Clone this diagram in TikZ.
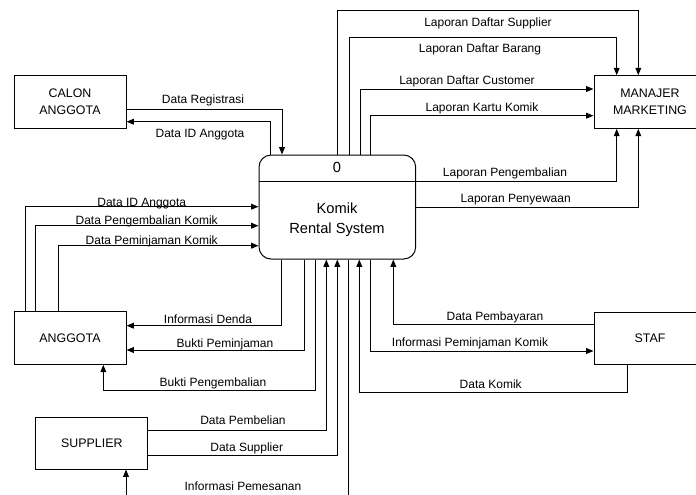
\documentclass[tikz,border=0pt]{standalone}
\usepackage{fontspec}
\setmainfont{Liberation Sans}
\usetikzlibrary{arrows.meta}
\begin{document}
\begin{tikzpicture}[x=0.75pt,y=-0.75pt,
  ent/.style={draw, line width=0.75pt, minimum width=84pt, minimum height=39.5pt, inner sep=0pt, align=center, font=\fontsize{9.3}{13}\selectfont},
  lbl/.style={inner sep=0pt, text height=6.45pt, text depth=0pt, font=\fontsize{9}{11}\selectfont},
  flow/.style={line width=0.75pt, -{Triangle[length=5.5pt,width=4.3pt]}},
  plain/.style={line width=0.75pt}]
\clip (0,0) rectangle (696,494);
% entities
\node[ent] (calon) at (70,102) {CALON\\ANGGOTA};
\node[ent] (anggota) at (70,338) {ANGGOTA};
\node[ent, minimum width=83.8pt, minimum height=38.8pt] (supplier) at (91.85,443.15) {SUPPLIER};
\node[ent] (manajer) at (650,102) {MANAJER\\MARKETING};
\node[ent, minimum height=38.8pt] (staf) at (650,338.15) {STAF};
% process
\node[draw, line width=0.75pt, rounded corners=9pt, minimum width=117.5pt, minimum height=78pt, inner sep=0pt] (main) at (337.35,207) {};
\draw[plain] (main.west |- 0,181.7) -- (main.east |- 0,181.7);
\node[font=\fontsize{11}{15}\selectfont, inner sep=0pt] (pid) at (337,167.3) {0};
\node[font=\fontsize{11}{15}\selectfont, inner sep=0pt, align=center] (pname) at (337,220) {Komik\\Rental System};
% calon anggota
\draw[flow] (calon.east |- 0,109) -- (282,109) -- (main.north -| 282,0);
\draw[flow] (main.north -| 270,0) -- (270,121.7) -- (calon.east |- 0,121.7);
\node[lbl] (l1) at (203,99.3) {Data Registrasi};
\node[lbl] (l2) at (200,132.7) {Data ID Anggota};
% manajer
\draw[flow] (main.north -| 337.3,0) -- (337.3,10) -- (638.3,10) -- (manajer.north -| 638.3,0);
\draw[flow] (main.north -| 349,0) -- (349,37) -- (616.7,37) -- (manajer.north -| 616.7,0);
\draw[flow] (main.north -| 360,0) -- (360,89) -- (manajer.west |- 0,89);
\draw[flow] (main.north -| 370.7,0) -- (370.7,115.7) -- (manajer.west |- 0,115.7);
\draw[flow] (main.east |- 0,181) -- (616.7,181) -- (manajer.south -| 616.7,0);
\draw[flow] (main.east |- 0,207.3) -- (638.3,207.3) -- (manajer.south -| 638.3,0);
\node[lbl] (l3) at (488,21.7) {Laporan Daftar Supplier};
\node[lbl] (l4) at (480,48) {Laporan Daftar Barang};
\node[lbl] (l5) at (467,80) {Laporan Daftar Customer};
\node[lbl] (l6) at (482,107) {Laporan Kartu Komik};
\node[lbl] (l7) at (505,171.7) {Laporan Pengembalian};
\node[lbl] (l8) at (515.7,197.7) {Laporan Penyewaan};
% anggota
\draw[flow] (anggota.north -| 25,0) -- (25,206.7) -- (main.west |- 0,206.7);
\draw[flow] (anggota.north -| 35.7,0) -- (35.7,225.7) -- (main.west |- 0,225.7);
\draw[flow] (anggota.north -| 58.3,0) -- (58.3,245.7) -- (main.west |- 0,245.7);
\draw[flow] (main.south -| 281.7,0) -- (281.7,325.7) -- (anggota.east |- 0,325.7);
\draw[flow] (main.south -| 304,0) -- (304,350) -- (anggota.east |- 0,350);
\draw[flow] (main.south -| 315.3,0) -- (315.3,390.7) -- (103.3,390.7) -- (anggota.south -| 103.3,0);
\node[lbl] (l9) at (141.7,201.7) {Data ID Anggota};
\node[lbl] (l10) at (146.7,220) {Data Pengembalian Komik};
\node[lbl] (l11) at (151.7,240) {Data Peminjaman Komik};
\node[lbl] (l12) at (208,319.3) {Informasi Denda};
\node[lbl] (l13) at (225,342.7) {Bukti Peminjaman};
\node[lbl] (l14) at (213,381.7) {Bukti Pengembalian};
% supplier
\draw[flow] (supplier.east |- 0,430) -- (326.3,430) -- (main.south -| 326.3,0);
\draw[flow] (supplier.east |- 0,455.7) -- (337.3,455.7) -- (main.south -| 337.3,0);
\coordinate (pemA) at (348.5,500);
\coordinate (pemB) at (126,500);
\draw[plain] (main.south -| 348.5,0) -- (pemA);
\draw[flow] (pemB) -- (supplier.south -| 126,0);
\node[lbl] (l15) at (243,420) {Data Pembelian};
\node[lbl] (l16) at (246.7,447.3) {Data Supplier};
\node[lbl] (l17) at (243,486) {Informasi Pemesanan};
% staf
\draw[flow] (staf.south -| 627.7,0) -- (627.7,392.3) -- (359.3,392.3) -- (main.south -| 359.3,0);
\draw[flow] (main.south -| 370.7,0) -- (370.7,351) -- (staf.west |- 0,351);
\draw[flow] (staf.west |- 0,324.3) -- (393.3,324.3) -- (main.south -| 393.3,0);
\node[lbl] (l18) at (495,315.7) {Data Pembayaran};
\node[lbl] (l19) at (470,342.3) {Informasi Peminjaman Komik};
\node[lbl] (l20) at (490.7,384.3) {Data Komik};
\end{tikzpicture}
\end{document}
